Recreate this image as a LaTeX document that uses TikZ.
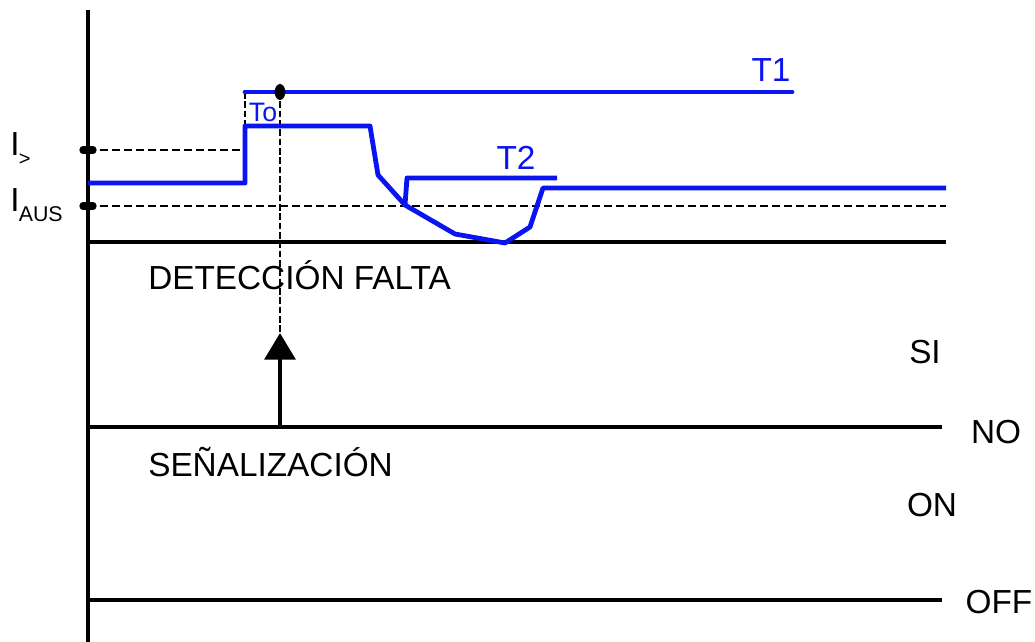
\documentclass[tikz,border=0pt]{standalone}
\usepackage{fontspec}
\setmainfont{Liberation Sans}
\usepackage{tikz}
\usetikzlibrary{arrows.meta}
\definecolor{sigblue}{HTML}{0A14F0}

\begin{document}
\begin{tikzpicture}[x=0.75pt,y=-0.75pt,
        axis/.style={line width=3pt},
        level/.style={line width=2.2pt,dash pattern=on 6pt off 3pt},
        guide/.style={line width=1.5pt,dash pattern=on 5pt off 2pt},
        sig/.style={sigblue,line width=3.6pt,line join=round},
        tick/.style={line width=5.5pt,line cap=round},
        lbl/.style={font=\fontsize{25}{28}\selectfont,inner sep=0pt},
        blbl/.style={lbl,text=sigblue}]
      \useasboundingbox (0,0) rectangle (1035,642);
      % axes and levels
      \coordinate (top) at (88,10);
      \coordinate (bot) at (88,642);
      \coordinate (z0) at (88,242);   \coordinate (z1) at (946,242);
      \coordinate (n0) at (88,427);   \coordinate (n1) at (942,427);
      \coordinate (f0) at (88,600);   \coordinate (f1) at (942,600);
      \coordinate (ig0) at (88,150);  \coordinate (ig1) at (245,150);
      \coordinate (ia0) at (88,206);  \coordinate (ia1) at (946,206);
      \draw[axis] (top) -- (bot);
      \draw[axis] (z0) -- (z1);
      \draw[axis] (n0) -- (n1);
      \draw[axis] (f0) -- (f1);
      \draw[level] (ig0) -- (ig1);
      \draw[level] (ia0) -- (ia1);
      \draw[tick] (83,150) -- (93,150);
      \draw[tick] (83,206) -- (93,206);
      % signals
      \coordinate (t1a) at (245,92);  \coordinate (t1b) at (792,92);
      \coordinate (up) at (245,126);
      \coordinate (cut) at (405,205);
      \coordinate (t2b) at (557,178);
      \coordinate (to) at (280,92);
      \coordinate (tip) at (280,333);
      \coordinate (foot) at (280,427);
      \draw[guide] (t1a) -- (up);
      \draw[guide] (to) -- (tip);
      \draw[sig] (88,183) -- (245,183) -- (up) -- (370,126) -- (378,175)
        -- (cut) -- (455,234) -- (505,243) -- (530,227) -- (543,188) -- (946,188);
      \draw[sig] (cut) -- (407,178) -- (t2b);
      \draw[sig,line cap=round] (t1a) -- (t1b);
      \fill (to) ellipse (4pt and 6pt);
      \draw[line width=3.2pt,-{Triangle[length=20pt,width=23pt]}] (foot) -- (tip);
      % labels
      \node[blbl] (lt1) at (771,70) {T1};
      \node[blbl] (lt2) at (516,158) {T2};
      \node[blbl,font=\fontsize{20}{22}\selectfont] (lto) at (263,112) {To};
      \node[lbl,anchor=west] (lig) at (10,149) {I\kern-0.5pt\raisebox{-8pt}{\fontsize{15}{17}\selectfont >}};
      \node[lbl,anchor=west] (lia) at (10,205) {I\kern-0.5pt\raisebox{-8pt}{\fontsize{16}{18}\selectfont AUS}};
      \node[lbl,anchor=west] (ldet) at (148,275) {DETECCIÓN FALTA};
      \node[lbl,anchor=west] (lsen) at (148,462) {SEÑALIZACIÓN};
      \node[lbl] (lsi) at (925,352) {SI};
      \node[lbl] (lno) at (996,432) {NO};
      \node[lbl] (lon) at (932,505) {ON};
      \node[lbl] (loff) at (999,602) {OFF};
    \end{tikzpicture}
\end{document}
